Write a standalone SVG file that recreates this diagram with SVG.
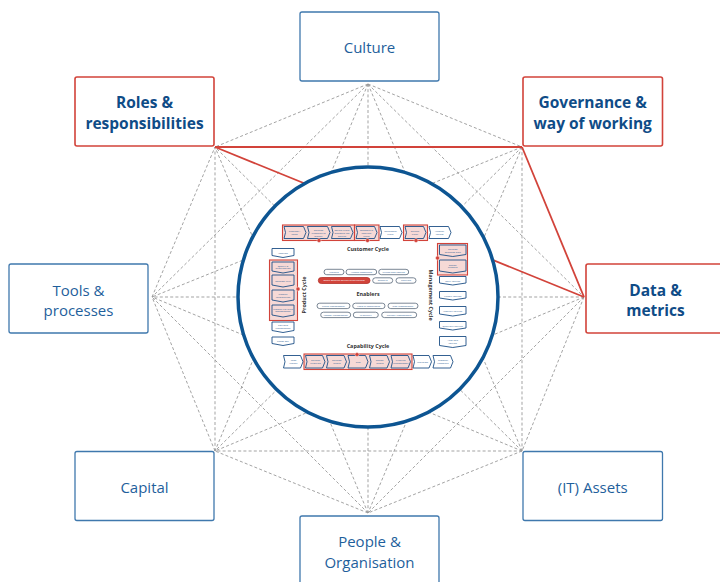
<svg xmlns="http://www.w3.org/2000/svg" width="720" height="582" viewBox="0 0 720 582">
  <style>
    .box { fill: #ffffff; stroke: #3f78ad; stroke-width: 1.3; }
    .box-hl { fill: #ffffff; stroke: #d2433a; stroke-width: 1.6; }
    .lbl { font-family: "Open Sans", "Noto Sans", sans-serif; font-size: 15px; fill: #1f5f9c; text-anchor: middle; }
    .lbl-b { font-family: "Open Sans", "Noto Sans", sans-serif; font-size: 15.5px; font-weight: 700; fill: #0f4c87; text-anchor: middle; }
    .dash { stroke: #999999; stroke-width: 0.9; stroke-dasharray: 3 2.2; fill: none; }
    .red { stroke: #d2433a; stroke-width: 1.8; fill: none; }
    .ring { fill: #ffffff; stroke: #0d5592; stroke-width: 3.5; }
    .step { fill: #ffffff; stroke: #1d4f86; stroke-width: 0.9; }
    .step-hl { fill: #f6d9d6; stroke: #1d4f86; stroke-width: 0.9; }
    .grp { fill: #f6d9d6; stroke: #d2433a; stroke-width: 1.1; }
    .dot { fill: #d2433a; stroke: #ffffff; stroke-width: 0.4; }
    .pill { fill: #ffffff; stroke: #59687a; stroke-width: 0.8; }
    .pill-hl { fill: #d2433a; stroke: #b23129; stroke-width: 0.8; }
    .t { font-family: "Open Sans", "Noto Sans", sans-serif; font-size: 2.5px; fill: #2a5d93; text-anchor: middle; }
    .tw { font-family: "Open Sans", "Noto Sans", sans-serif; font-size: 2.5px; fill: #ffffff; text-anchor: middle; }
    .ttl { font-family: "Open Sans", "Noto Sans", sans-serif; font-size: 5.4px; font-weight: 700; fill: #333333; text-anchor: middle; }
  </style>

  <!-- connectors between the eight anchor points -->
  <g id="connectors">
    <line class="dash" x1="368" y1="84" x2="522" y2="147"/>
    <line class="dash" x1="368" y1="84" x2="584" y2="297"/>
    <line class="dash" x1="368" y1="84" x2="522" y2="451"/>
    <line class="dash" x1="368" y1="84" x2="368" y2="513"/>
    <line class="dash" x1="368" y1="84" x2="215" y2="451"/>
    <line class="dash" x1="368" y1="84" x2="152" y2="297"/>
    <line class="dash" x1="368" y1="84" x2="215" y2="147"/>
    <line class="dash" x1="522" y1="147" x2="522" y2="451"/>
    <line class="dash" x1="522" y1="147" x2="368" y2="513"/>
    <line class="dash" x1="522" y1="147" x2="215" y2="451"/>
    <line class="dash" x1="522" y1="147" x2="152" y2="297"/>
    <line class="dash" x1="584" y1="297" x2="522" y2="451"/>
    <line class="dash" x1="584" y1="297" x2="368" y2="513"/>
    <line class="dash" x1="584" y1="297" x2="215" y2="451"/>
    <line class="dash" x1="584" y1="297" x2="152" y2="297"/>
    <line class="dash" x1="522" y1="451" x2="368" y2="513"/>
    <line class="dash" x1="522" y1="451" x2="215" y2="451"/>
    <line class="dash" x1="522" y1="451" x2="152" y2="297"/>
    <line class="dash" x1="522" y1="451" x2="215" y2="147"/>
    <line class="dash" x1="368" y1="513" x2="215" y2="451"/>
    <line class="dash" x1="368" y1="513" x2="152" y2="297"/>
    <line class="dash" x1="368" y1="513" x2="215" y2="147"/>
    <line class="dash" x1="215" y1="451" x2="152" y2="297"/>
    <line class="dash" x1="215" y1="451" x2="215" y2="147"/>
    <line class="dash" x1="152" y1="297" x2="215" y2="147"/>
    <line class="red" x1="215" y1="147" x2="522" y2="147"/>
    <line class="red" x1="522" y1="147" x2="584" y2="297"/>
    <line class="red" x1="215" y1="147" x2="584" y2="297"/>
  </g>

  <!-- central operating model -->
  <g id="core">
    <circle class="ring" cx="368" cy="297" r="130"/>

    <!-- customer cycle (top row) -->
    <rect class="grp" x="282.5" y="225" width="72" height="15.5"/>
    <rect class="grp" x="354.5" y="225" width="24.5" height="15.5"/>
    <rect class="grp" x="403.5" y="225" width="24" height="15.5"/>
    <polygon class="step-hl" points="284,226.5 303.5,226.5 306,232.5 303.5,238.5 284,238.5 285.5,232.5"/>
    <polygon class="step-hl" points="307.5,226.5 327.5,226.5 330,232.5 327.5,238.5 307.5,238.5 309,232.5"/>
    <polygon class="step-hl" points="331.5,226.5 350.5,226.5 353,232.5 350.5,238.5 331.5,238.5 333,232.5"/>
    <polygon class="step-hl" points="356,226.5 374.5,226.5 377,232.5 374.5,238.5 356,238.5 357.5,232.5"/>
    <polygon class="step" points="380,226.5 399.5,226.5 402,232.5 399.5,238.5 380,238.5 381.5,232.5"/>
    <polygon class="step-hl" points="405,226.5 423.5,226.5 426,232.5 423.5,238.5 405,238.5 406.5,232.5"/>
    <polygon class="step" points="429,226.5 448.5,226.5 451,232.5 448.5,238.5 429,238.5 430.5,232.5"/>
    <text class="t" x="294.5" y="232">Problem /</text><text class="t" x="294.5" y="235">Need</text>
    <text class="t" x="318.5" y="231">Develop</text><text class="t" x="318.5" y="233.8">Channels to</text><text class="t" x="318.5" y="236.6">market</text>
    <text class="t" x="342" y="231">Obtain Client</text><text class="t" x="342" y="233.8">Onboard the</text><text class="t" x="342" y="236.6">service</text>
    <text class="t" x="366.5" y="231">Onboard &amp;</text><text class="t" x="366.5" y="233.8">Contract</text><text class="t" x="366.5" y="236.6">Client</text>
    <text class="t" x="390.5" y="232">Implement</text><text class="t" x="390.5" y="235">client</text>
    <text class="t" x="415" y="232">Service</text><text class="t" x="415" y="235">client</text>
    <text class="t" x="439.5" y="232">Account</text><text class="t" x="439.5" y="235">review</text>
    <circle class="dot" cx="319" cy="240.5" r="2"/>
    <circle class="dot" cx="367.5" cy="240.5" r="2"/>
    <circle class="dot" cx="416" cy="240.5" r="2"/>
    <text class="ttl" x="368" y="251">Customer Cycle</text>

    <!-- product cycle (left column) -->
    <rect class="grp" x="269.5" y="260" width="28" height="60.5"/>
    <path class="step" d="M272,248.5 L294,248.5 L294,255.5 L283,257.5 L272,255.5 Z"/>
    <path class="step-hl" d="M272,262 L294,262 L294,271 L283,273 L272,271 Z"/>
    <path class="step-hl" d="M272,275 L294,275 L294,285 L283,287 L272,285 Z"/>
    <path class="step-hl" d="M272,290 L294,290 L294,300 L283,302 L272,300 Z"/>
    <path class="step-hl" d="M272,305 L294,305 L294,315 L283,317 L272,315 Z"/>
    <path class="step" d="M272,322 L294,322 L294,330.5 L283,332.5 L272,330.5 Z"/>
    <path class="step" d="M272,337 L294,337 L294,343.5 L283,345.5 L272,343.5 Z"/>
    <text class="t" x="283" y="253.5">Ideation</text>
    <text class="t" x="283" y="266.5">Quality &amp;</text><text class="t" x="283" y="269.3">prioritisation</text>
    <text class="t" x="283" y="281.5">Develop MVP</text>
    <text class="t" x="283" y="295">Product</text><text class="t" x="283" y="297.8">introduction</text>
    <text class="t" x="283" y="309.5">Product life cycle</text><text class="t" x="283" y="312.3">management</text>
    <text class="t" x="283" y="326.3">Portfolio</text><text class="t" x="283" y="329.1">Management</text>
    <text class="t" x="283" y="341.6">Phase Out</text>
    <circle class="dot" cx="298" cy="289" r="2"/>
    <text class="ttl" transform="translate(306 295) rotate(-90)">Product Cycle</text>

    <!-- management cycle (right column) -->
    <rect class="grp" x="437.5" y="243.5" width="30" height="31.5"/>
    <path class="step-hl" d="M439.5,245 L466,245 L466,254.5 L452.75,256.5 L439.5,254.5 Z"/>
    <path class="step-hl" d="M439.5,260 L466,260 L466,271 L452.75,273 L439.5,271 Z"/>
    <path class="step" d="M439.5,276.5 L466,276.5 L466,283 L452.75,285 L439.5,283 Z"/>
    <path class="step" d="M439.5,291.5 L466,291.5 L466,298 L452.75,300 L439.5,298 Z"/>
    <path class="step" d="M439.5,306.5 L466,306.5 L466,314 L452.75,316 L439.5,314 Z"/>
    <path class="step" d="M439.5,321.5 L466,321.5 L466,328 L452.75,330 L439.5,328 Z"/>
    <path class="step" d="M439.5,336.5 L466,336.5 L466,345.5 L452.75,347.5 L439.5,345.5 Z"/>
    <text class="t" x="452.75" y="249.7">Develop</text><text class="t" x="452.75" y="252.5">Business plan</text>
    <text class="t" x="452.75" y="265.5">Deploy</text><text class="t" x="452.75" y="268.3">budgets</text>
    <text class="t" x="452.75" y="281.5">Daily routine</text>
    <text class="t" x="452.75" y="296.5">Weekly routine</text>
    <text class="t" x="452.75" y="311.8">Monthly routine</text>
    <text class="t" x="452.75" y="326.5">Quarterly routine</text>
    <text class="t" x="452.75" y="341">Year end</text><text class="t" x="452.75" y="343.8">routine</text>
    <circle class="dot" cx="437.5" cy="258" r="2"/>
    <text class="ttl" transform="translate(428.5 295) rotate(90)">Management Cycle</text>

    <!-- enablers -->
    <rect class="pill" x="324" y="269.3" width="20" height="5.4" rx="2.7"/>
    <rect class="pill" x="346" y="269.3" width="30.7" height="5.4" rx="2.7"/>
    <rect class="pill" x="378.7" y="269.3" width="30" height="5.4" rx="2.7"/>
    <rect class="pill-hl" x="318.3" y="277.5" width="51.7" height="6" rx="3"/>
    <rect class="pill" x="372.7" y="277.8" width="20" height="5.4" rx="2.7"/>
    <rect class="pill" x="396" y="277.8" width="20" height="5.4" rx="2.7"/>
    <text class="t" x="334" y="272.8">Markets</text>
    <text class="t" x="361.3" y="272.8">Human Resources</text>
    <text class="t" x="393.7" y="272.8">Pricing and Costing</text>
    <text class="tw" x="344.2" y="281.3">Open Banking Service Effectiveness</text>
    <text class="t" x="382.7" y="281.3">Office/IT</text>
    <text class="t" x="406" y="281.3">Facilities</text>
    <text class="ttl" x="368" y="296">Enablers</text>
    <rect class="pill" x="317" y="303.2" width="33" height="5.4" rx="2.7"/>
    <rect class="pill" x="352.7" y="303.2" width="32.3" height="5.4" rx="2.7"/>
    <rect class="pill" x="388" y="303.2" width="30" height="5.4" rx="2.7"/>
    <rect class="pill" x="320.7" y="312.2" width="30" height="5.4" rx="2.7"/>
    <rect class="pill" x="353.3" y="312.2" width="25" height="5.4" rx="2.7"/>
    <rect class="pill" x="381.7" y="312.2" width="35" height="5.4" rx="2.7"/>
    <text class="t" x="333.5" y="306.7">Fraud Management</text>
    <text class="t" x="368.8" y="306.7">Legal &amp; Compliance</text>
    <text class="t" x="403" y="306.7">Risk Management</text>
    <text class="t" x="335.7" y="315.7">Vendor Management</text>
    <text class="t" x="365.8" y="315.7">IT security</text>
    <text class="t" x="399.2" y="315.7">Partner Management</text>

    <!-- capability cycle (bottom row) -->
    <text class="ttl" x="368" y="348">Capability Cycle</text>
    <rect class="grp" x="304" y="354" width="108" height="15.5"/>
    <polygon class="step" points="283.5,355.5 300.5,355.5 303,361.75 300.5,368 283.5,368 285,361.75"/>
    <polygon class="step-hl" points="305.5,355.5 322.5,355.5 325,361.75 322.5,368 305.5,368 307,361.75"/>
    <polygon class="step-hl" points="326.5,355.5 344,355.5 346.5,361.75 344,368 326.5,368 328,361.75"/>
    <polygon class="step-hl" points="348,355.5 365.5,355.5 368,361.75 365.5,368 348,368 349.5,361.75"/>
    <polygon class="step-hl" points="369.5,355.5 387,355.5 389.5,361.75 387,368 369.5,368 371,361.75"/>
    <polygon class="step-hl" points="391,355.5 408,355.5 410.5,361.75 408,368 391,368 392.5,361.75"/>
    <polygon class="step" points="413,355.5 429,355.5 431.5,361.75 429,368 413,368 414.5,361.75"/>
    <polygon class="step" points="433,355.5 450.5,355.5 453,361.75 450.5,368 433,368 434.5,361.75"/>
    <text class="t" x="293.5" y="361">Lean</text><text class="t" x="293.5" y="363.8">Market</text>
    <text class="t" x="315.5" y="361">Refresh</text><text class="t" x="315.5" y="363.8">Priorities</text>
    <text class="t" x="336.8" y="361">Develop</text><text class="t" x="336.8" y="363.8">Guard</text>
    <text class="t" x="358.3" y="362.5">Test</text>
    <text class="t" x="379.8" y="361">Deploy</text><text class="t" x="379.8" y="363.8">Guard</text>
    <text class="t" x="400.8" y="361">Lifecycle</text><text class="t" x="400.8" y="363.8">Management</text>
    <text class="t" x="422.5" y="362.5">Migration</text>
    <text class="t" x="443" y="361">Discover</text><text class="t" x="443" y="363.8">Complete</text>
    <circle class="dot" cx="357" cy="354.5" r="2"/>
  </g>

  <!-- surrounding dimensions -->
  <g id="culture">
    <rect class="box" x="300" y="12" width="139" height="69" rx="2"/>
    <text class="lbl" x="369.5" y="52.5">Culture</text>
  </g>
  <g id="roles">
    <rect class="box-hl" x="75" y="77" width="139" height="69" rx="2"/>
    <text class="lbl-b" x="144.5" y="108">Roles &amp;</text>
    <text class="lbl-b" x="144.5" y="128.5">responsibilities</text>
  </g>
  <g id="governance">
    <rect class="box-hl" x="523" y="77" width="139.5" height="69" rx="2"/>
    <text class="lbl-b" x="592.7" y="108">Governance &amp;</text>
    <text class="lbl-b" x="592.7" y="128.5">way of working</text>
  </g>
  <g id="tools">
    <rect class="box" x="9" y="264" width="139" height="69" rx="2"/>
    <text class="lbl" x="78.5" y="295.5">Tools &amp;</text>
    <text class="lbl" x="78.5" y="316">processes</text>
  </g>
  <g id="data">
    <rect class="box-hl" x="586" y="264" width="139" height="69" rx="2"/>
    <text class="lbl-b" x="655.5" y="295.5">Data &amp;</text>
    <text class="lbl-b" x="655.5" y="316">metrics</text>
  </g>
  <g id="capital">
    <rect class="box" x="75" y="451.5" width="139" height="69" rx="2"/>
    <text class="lbl" x="144.5" y="493">Capital</text>
  </g>
  <g id="assets">
    <rect class="box" x="523" y="451.5" width="139.5" height="69" rx="2"/>
    <text class="lbl" x="592.7" y="493">(IT) Assets</text>
  </g>
  <g id="people">
    <rect class="box" x="300" y="516" width="139" height="80" rx="2"/>
    <text class="lbl" x="369.5" y="547">People &amp;</text>
    <text class="lbl" x="369.5" y="567.5">Organisation</text>
  </g>
</svg>
